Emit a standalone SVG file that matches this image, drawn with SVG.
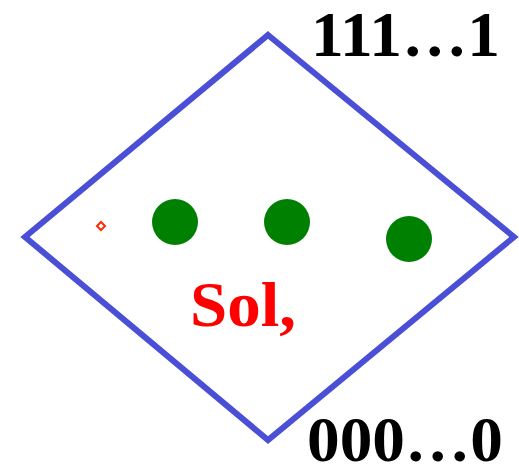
<svg xmlns="http://www.w3.org/2000/svg" width="519" height="468" viewBox="0 0 519 468">
<style>
.lbl{font-family:"Liberation Serif",serif;font-weight:bold;font-size:64px;fill:#000}
.dot{fill:#008000}
</style>
<rect width="519" height="468" fill="#fff"/>
<g id="diamond">
<polygon points="268,35 514,237 268,440 25,237" fill="none" stroke="#4a4fd6" stroke-width="6"/>
</g>
<g id="marker">
<polygon points="101,222 105,226 101,230 97,226" fill="none" stroke="#ff2a00" stroke-width="2"/>
</g>
<g id="p1"><circle class="dot" cx="175" cy="222" r="23"/></g>
<g id="p2"><circle class="dot" cx="287" cy="222" r="23"/></g>
<g id="p3"><circle class="dot" cx="409" cy="239" r="23"/></g>
<g id="sol"><text x="190" y="326" class="lbl" style="fill:#ff0000;font-size:64px" textLength="106" lengthAdjust="spacingAndGlyphs">Sol,</text></g>
<g id="top"><text x="311" y="56" class="lbl" textLength="189" lengthAdjust="spacingAndGlyphs">111…1</text></g>
<g id="bottom"><text x="307" y="461" class="lbl" textLength="196" lengthAdjust="spacingAndGlyphs">000…0</text></g>
</svg>
